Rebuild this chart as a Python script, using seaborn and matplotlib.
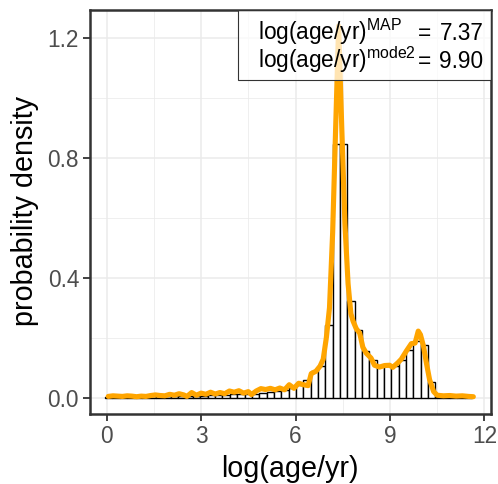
import numpy as np
import pandas as pd
import matplotlib
matplotlib.use("Agg")
import matplotlib.pyplot as plt
import seaborn as sns
from matplotlib.patches import Rectangle
from matplotlib.ticker import MultipleLocator, FormatStrFormatter

# ---------------- data ----------------
hist_first_edge = -0.053
hist_bin_width = 0.2333
hist_density = [
    0.002, 0.002, 0.002, 0.002, 0.003, 0.003, 0.004, 0.004, 0.005, 0.005,
    0.006, 0.006, 0.007, 0.007, 0.008, 0.009, 0.010, 0.011, 0.012, 0.013,
    0.013, 0.015, 0.020, 0.021, 0.027, 0.032, 0.043, 0.060, 0.090, 0.107,
    0.243, 0.845, 0.845, 0.324, 0.224, 0.154, 0.125, 0.107, 0.107, 0.104,
    0.125, 0.160, 0.190, 0.177, 0.051, 0.003, 0.002, 0.002, 0.002, 0.001,
]

kde_x = [
    0.05, 0.20, 0.35, 0.50, 0.65, 0.80, 0.95, 1.10, 1.25, 1.40,
    1.55, 1.70, 1.85, 2.00, 2.15, 2.30, 2.45, 2.55, 2.70, 2.85,
    3.00, 3.15, 3.30, 3.45, 3.60, 3.75, 3.90, 4.05, 4.20, 4.35,
    4.50, 4.60, 4.75, 4.90, 5.05, 5.20, 5.35, 5.50, 5.65, 5.80,
    5.95, 6.10, 6.25, 6.40, 6.50, 6.65, 6.78, 6.88, 6.98, 7.08,
    7.18, 7.27, 7.37, 7.47, 7.57, 7.67, 7.76, 7.83, 7.93, 8.04,
    8.14, 8.25, 8.40, 8.51, 8.67, 8.83, 8.99, 9.09, 9.25, 9.36,
    9.52, 9.68, 9.80, 9.90, 9.97, 10.07, 10.16, 10.26, 10.39, 10.50,
    10.70, 10.90, 11.10, 11.30, 11.50, 11.65,
]
kde_y = [
    0.004, 0.006, 0.005, 0.004, 0.006, 0.005, 0.003, 0.005, 0.004, 0.007,
    0.009, 0.007, 0.006, 0.011, 0.008, 0.013, 0.009, 0.004, 0.017, 0.008,
    0.015, 0.011, 0.018, 0.012, 0.017, 0.013, 0.022, 0.018, 0.023, 0.015,
    0.020, 0.010, 0.022, 0.030, 0.027, 0.031, 0.026, 0.032, 0.026, 0.043,
    0.031, 0.048, 0.043, 0.040, 0.080, 0.088, 0.105, 0.128, 0.200, 0.300,
    0.550, 0.880, 1.240, 0.900, 0.580, 0.380, 0.280, 0.255, 0.230, 0.215,
    0.168, 0.148, 0.132, 0.108, 0.102, 0.107, 0.108, 0.101, 0.116, 0.128,
    0.155, 0.180, 0.182, 0.222, 0.210, 0.170, 0.115, 0.060, 0.020, 0.008,
    0.006, 0.007, 0.005, 0.006, 0.004, 0.003,
]

x_ticks = [0, 3, 6, 9, 12]
y_ticks = [0.0, 0.4, 0.8, 1.2]
map_value = 7.37
mode2_value = 9.90
x_label = "log(age/yr)"
y_label = "probability density"
legend_labels = [r"log(age/yr)$^{\mathrm{MAP}}$", r"log(age/yr)$^{\mathrm{mode2}}$"]
legend_values = [map_value, mode2_value]

# ---------------- style ----------------
sns.set_theme(style="white")
plt.rcParams['font.family'] = ['Liberation Sans', 'DejaVu Sans']
plt.rcParams['mathtext.fontset'] = 'custom'
plt.rcParams['mathtext.rm'] = 'Liberation Sans'
plt.rcParams['mathtext.it'] = 'Liberation Sans:italic'
plt.rcParams['mathtext.bf'] = 'Liberation Sans:bold'

W, H = 498, 484
fig = plt.figure(figsize=(W / 100, H / 100), dpi=100)
left, right, top, bottom = 90.2, 490.5, 9.5, 413.5
ax = fig.add_axes([left / W, 1 - bottom / H, (right - left) / W, (bottom - top) / H])

edges = list(hist_first_edge + hist_bin_width * np.arange(len(hist_density) + 1))
hist_df = pd.DataFrame({
    "center": [e + hist_bin_width / 2 for e in edges[:-1]],
    "density": hist_density,
})
kde_df = pd.DataFrame({"x": kde_x, "y": kde_y})

sns.histplot(data=hist_df, x="center", weights="density", bins=edges,
             stat="count", color="white", edgecolor="black", linewidth=1.0,
             alpha=1.0, ax=ax, zorder=2)
sns.lineplot(data=kde_df, x="x", y="y", color="#FFA500", linewidth=3.7,
             ax=ax, zorder=3)

ax.set_xlim(-0.524, 12.196)
ax.set_ylim(-0.053, 1.295)
ax.set_xticks(x_ticks)
ax.set_yticks(y_ticks)
ax.yaxis.set_major_formatter(FormatStrFormatter('%.1f'))
ax.xaxis.set_minor_locator(MultipleLocator(1.5))
ax.yaxis.set_minor_locator(MultipleLocator(0.2))
ax.set_axisbelow(True)
ax.grid(which='major', color='#EBEBEB', linewidth=1.1)
ax.grid(which='minor', color='#EBEBEB', linewidth=0.55)
ax.tick_params(which='minor', length=0)
ax.tick_params(which='major', length=5, width=1.3, color='#333333',
               labelsize=16.3, labelcolor='#4D4D4D', pad=3,
               bottom=True, left=True)
for s in ax.spines.values():
    s.set_visible(True)
    s.set_color('#333333')
    s.set_linewidth(1.8)

ax.set_xlabel(x_label, fontsize=20.7, color='black', labelpad=5)
ax.set_ylabel(y_label, fontsize=20.7, color='black', labelpad=6)

# legend-like annotation box
box = Rectangle((0.369, 0.8255), 0.631, 0.1745, transform=ax.transAxes,
                facecolor=(1, 1, 1, 0.7), edgecolor='#333333', linewidth=0.8,
                zorder=5)
ax.add_patch(box)
for lab, val, yb in zip(legend_labels, legend_values, [0.9245, 0.855]):
    ax.text(0.420, yb, lab, transform=ax.transAxes, ha='left', va='baseline',
            fontsize=16.3, color='black', zorder=6)
    ax.text(0.834, yb, "=", transform=ax.transAxes, ha='center', va='baseline',
            fontsize=16.3, color='black', zorder=6)
    ax.text(0.982, yb, f"{val:.2f}", transform=ax.transAxes, ha='right',
            va='baseline', fontsize=16.3, color='black', zorder=6)

fig.savefig("out.png", dpi=100)
